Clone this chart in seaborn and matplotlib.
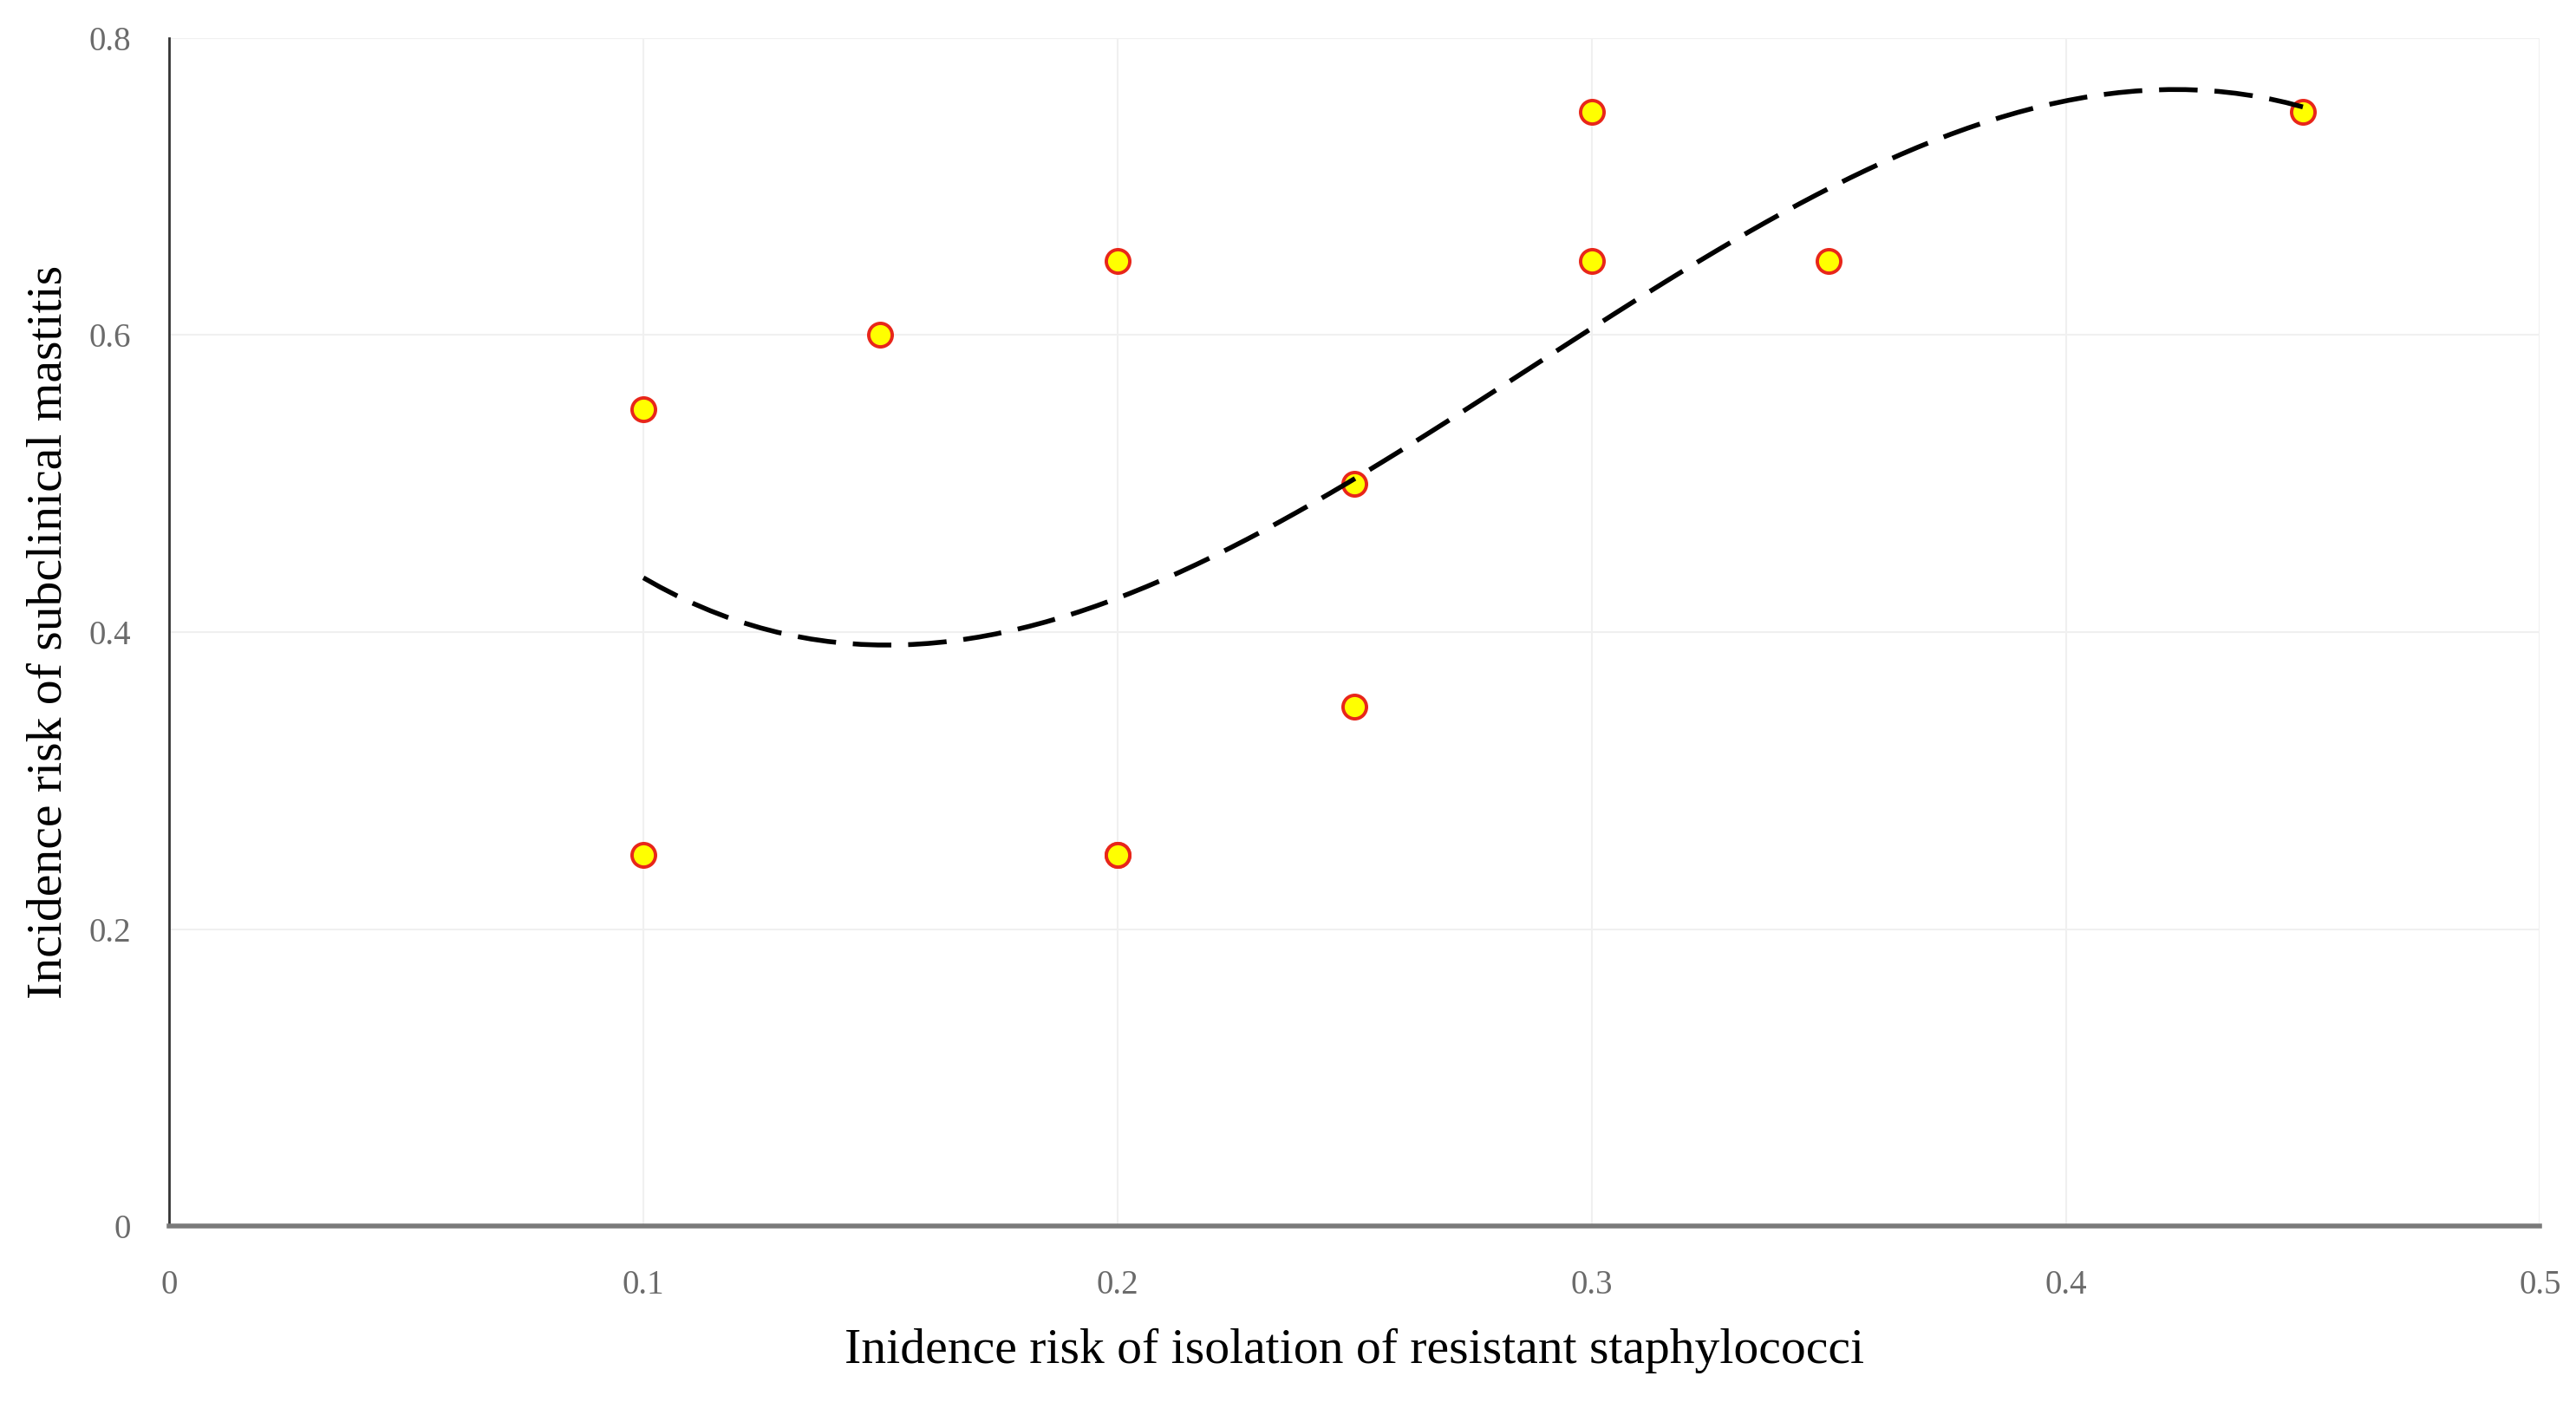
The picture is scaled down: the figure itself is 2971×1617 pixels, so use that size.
import pandas as pd
import matplotlib.pyplot as plt
import seaborn as sns

# Data (the point at 0.2 / 0.25 appears twice, overlapping)
resistant_risk = [0.10, 0.10, 0.15, 0.20, 0.20, 0.20, 0.25, 0.25, 0.30, 0.30, 0.35, 0.45]
mastitis_risk = [0.55, 0.25, 0.60, 0.65, 0.25, 0.25, 0.50, 0.35, 0.75, 0.65, 0.65, 0.75]
x_ticks = [0, 0.1, 0.2, 0.3, 0.4, 0.5]
x_tick_labels = ['0', '0.1', '0.2', '0.3', '0.4', '0.5']
y_ticks = [0, 0.2, 0.4, 0.6, 0.8]
y_tick_labels = ['0', '0.2', '0.4', '0.6', '0.8']

df = pd.DataFrame({'x': resistant_risk, 'y': mastitis_risk})

sns.set_style('white')
plt.rcParams['font.family'] = ['Liberation Serif', 'DejaVu Serif']

fig = plt.figure(figsize=(29.71, 16.17), dpi=100)
ax = fig.add_axes([0.0657, 0.1254, 0.9203, 0.8476])

# Trend line (polynomial, order 3)
sns.regplot(data=df, x='x', y='y', order=3, ci=None, scatter=False, ax=ax,
            line_kws={'color': 'black', 'linewidth': 4,
                      'linestyle': (0, (8, 3.5)), 'zorder': 4})

# Points
sns.scatterplot(data=df, x='x', y='y', ax=ax, s=380, color='#ffff00',
                edgecolor='#e8261a', linewidth=2.8, zorder=3)

ax.set_xlim(0, 0.5)
ax.set_ylim(0, 0.8)
ax.set_xticks(x_ticks)
ax.set_xticklabels(x_tick_labels)
ax.set_yticks(y_ticks)
ax.set_yticklabels(y_tick_labels)
ax.tick_params(axis='both', length=0, labelsize=28, labelcolor='#6b6b6b')
ax.tick_params(axis='x', pad=36)
ax.tick_params(axis='y', pad=32)

ax.grid(True, color='#f0f0f0', linewidth=1.5)
ax.set_axisbelow(True)

for side in ['top', 'right']:
    ax.spines[side].set_visible(False)
ax.spines['left'].set_color('#333333')
ax.spines['left'].set_linewidth(2)
ax.spines['bottom'].set_color('#7a7a7a')
ax.spines['bottom'].set_linewidth(4)

ax.set_xlabel('Inidence risk of isolation of resistant staphylococci',
              fontsize=41.5, color='black', labelpad=22)
ax.set_ylabel('Incidence risk of subclinical mastitis',
              fontsize=41.5, color='black', labelpad=14)

fig.savefig('out.png', dpi=100)
